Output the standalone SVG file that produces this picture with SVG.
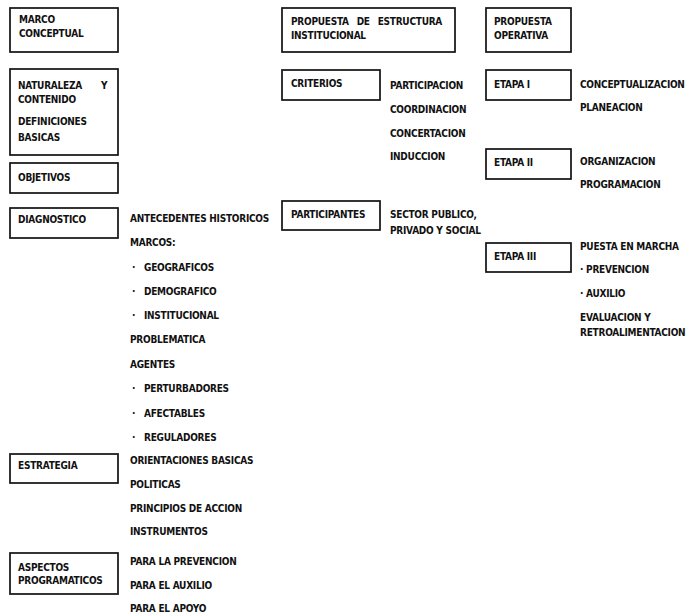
<svg xmlns="http://www.w3.org/2000/svg" width="690" height="615" viewBox="0 0 690 615">
  <style>
    .box { fill: #ffffff; stroke: #111111; stroke-width: 1.7; }
    text { font-family: "DejaVu Sans Condensed", "Liberation Sans", sans-serif; font-weight: bold; font-size: 10px; letter-spacing: -0.25px; fill: #111111; dominant-baseline: middle; }
    .wide { word-spacing: 5px; }
  </style>
  <rect width="690" height="615" fill="#ffffff"/>

  <!-- Column 1: marco conceptual -->
  <g id="marco-conceptual">
    <rect class="box" x="10" y="8" width="108" height="44"/>
    <text x="19" y="20">MARCO</text>
    <text x="19" y="34">CONCEPTUAL</text>
  </g>
  <g id="naturaleza">
    <rect class="box" x="10" y="69" width="108" height="86"/>
    <text x="18" y="86">NATURALEZA</text>
    <text x="101" y="86">Y</text>
    <text x="18" y="100">CONTENIDO</text>
    <text x="18" y="122">DEFINICIONES</text>
    <text x="18" y="138">BASICAS</text>
  </g>
  <g id="objetivos">
    <rect class="box" x="10" y="163" width="108" height="30"/>
    <text x="18" y="178">OBJETIVOS</text>
  </g>
  <g id="diagnostico">
    <rect class="box" x="10" y="208" width="108" height="30"/>
    <text x="18" y="220">DIAGNOSTICO</text>
  </g>
  <g id="diagnostico-items">
    <text x="130" y="219">ANTECEDENTES HISTORICOS</text>
    <text x="130" y="243">MARCOS:</text>
    <text x="132" y="268">·</text><text x="144" y="268">GEOGRAFICOS</text>
    <text x="132" y="292">·</text><text x="144" y="292">DEMOGRAFICO</text>
    <text x="132" y="316">·</text><text x="144" y="316">INSTITUCIONAL</text>
    <text x="130" y="340">PROBLEMATICA</text>
    <text x="130" y="365">AGENTES</text>
    <text x="132" y="389">·</text><text x="144" y="389">PERTURBADORES</text>
    <text x="132" y="414">·</text><text x="144" y="414">AFECTABLES</text>
    <text x="132" y="438">·</text><text x="144" y="438">REGULADORES</text>
  </g>
  <g id="estrategia">
    <rect class="box" x="10" y="454" width="108" height="29"/>
    <text x="18" y="466">ESTRATEGIA</text>
  </g>
  <g id="estrategia-items">
    <text x="130" y="461">ORIENTACIONES BASICAS</text>
    <text x="130" y="485">POLITICAS</text>
    <text x="130" y="509">PRINCIPIOS DE ACCION</text>
    <text x="130" y="532">INSTRUMENTOS</text>
  </g>
  <g id="aspectos-programaticos">
    <rect class="box" x="10" y="553" width="108" height="41"/>
    <text x="18" y="568">ASPECTOS</text>
    <text x="18" y="581">PROGRAMATICOS</text>
  </g>
  <g id="aspectos-items">
    <text x="130" y="562">PARA LA PREVENCION</text>
    <text x="130" y="586">PARA EL AUXILIO</text>
    <text x="130" y="609">PARA EL APOYO</text>
  </g>

  <!-- Column 2: estructura institucional -->
  <g id="estructura-institucional">
    <rect class="box" x="282" y="8" width="173" height="44"/>
    <text class="wide" x="291" y="22">PROPUESTA DE ESTRUCTURA</text>
    <text x="291" y="36">INSTITUCIONAL</text>
  </g>
  <g id="criterios">
    <rect class="box" x="282" y="70" width="98" height="30"/>
    <text x="291" y="84">CRITERIOS</text>
  </g>
  <g id="criterios-items">
    <text x="390" y="86">PARTICIPACION</text>
    <text x="390" y="110">COORDINACION</text>
    <text x="390" y="134">CONCERTACION</text>
    <text x="390" y="157">INDUCCION</text>
  </g>
  <g id="participantes">
    <rect class="box" x="282" y="201" width="98" height="29"/>
    <text x="291" y="215">PARTICIPANTES</text>
  </g>
  <g id="participantes-items">
    <text x="390" y="215">SECTOR PUBLICO,</text>
    <text x="390" y="231">PRIVADO Y SOCIAL</text>
  </g>

  <!-- Column 3: propuesta operativa -->
  <g id="propuesta-operativa">
    <rect class="box" x="486" y="8" width="85" height="44"/>
    <text x="494" y="22">PROPUESTA</text>
    <text x="494" y="36">OPERATIVA</text>
  </g>
  <g id="etapa-1">
    <rect class="box" x="486" y="70" width="85" height="30"/>
    <text x="494" y="85">ETAPA I</text>
  </g>
  <g id="etapa-1-items">
    <text x="580" y="85">CONCEPTUALIZACION</text>
    <text x="580" y="108">PLANEACION</text>
  </g>
  <g id="etapa-2">
    <rect class="box" x="486" y="149" width="85" height="30"/>
    <text x="494" y="163">ETAPA II</text>
  </g>
  <g id="etapa-2-items">
    <text x="580" y="162">ORGANIZACION</text>
    <text x="580" y="185">PROGRAMACION</text>
  </g>
  <g id="etapa-3">
    <rect class="box" x="486" y="243" width="85" height="29"/>
    <text x="494" y="257">ETAPA III</text>
  </g>
  <g id="etapa-3-items">
    <text x="580" y="247">PUESTA EN MARCHA</text>
    <text x="580" y="270">· PREVENCION</text>
    <text x="580" y="294">· AUXILIO</text>
    <text x="580" y="318">EVALUACION Y</text>
    <text x="580" y="333">RETROALIMENTACION</text>
  </g>
</svg>
